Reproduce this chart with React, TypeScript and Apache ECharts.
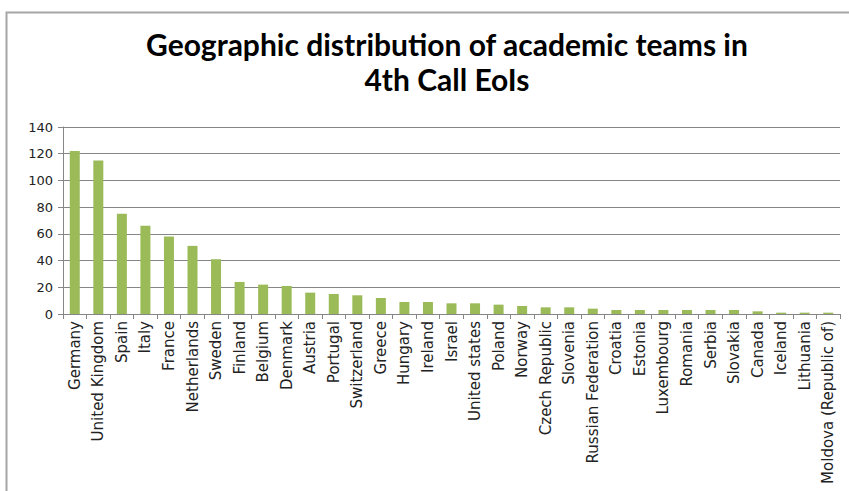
import React, { useEffect, useRef } from "react";
import * as echarts from "echarts";

const countries = [
  "Germany", "United Kingdom", "Spain", "Italy", "France", "Netherlands", "Sweden",
  "Finland", "Belgium", "Denmark", "Austria", "Portugal", "Switzerland", "Greece",
  "Hungary", "Ireland", "Israel", "United states", "Poland", "Norway", "Czech Republic",
  "Slovenia", "Russian Federation", "Croatia", "Estonia", "Luxembourg", "Romania",
  "Serbia", "Slovakia", "Canada", "Iceland", "Lithuania", "Moldova (Republic of)",
];
const teams = [
  122, 115, 75, 66, 58, 51, 41, 24, 22, 21, 16, 15, 14, 12, 9, 9, 8, 8, 7, 6, 5, 5, 4,
  3, 3, 3, 3, 3, 3, 2, 1, 1, 1,
];
const titleText = "Geographic distribution of academic teams in\n4th Call EoIs";

export default function App() {
  const ref = useRef<HTMLDivElement>(null);
  useEffect(() => {
    document.body.style.margin = "0";
    const chart = echarts.init(ref.current!, null, { renderer: "svg" });
    chart.setOption({
      animation: false,
      backgroundColor: "#ffffff",
      graphic: [
        {
          type: "rect",
          shape: { x: 6.5, y: 12.5, width: 900, height: 600 },
          style: { fill: "none", stroke: "#a6a6a6", lineWidth: 2 },
          silent: true,
        },
      ],
      title: {
        text: titleText,
        left: 442,
        textAlign: "center",
        top: 21,
        textStyle: {
          fontFamily: "Lato",
          fontWeight: "bold",
          fontSize: 30,
          lineHeight: 35,
          color: "#000",
        },
      },
      grid: { left: 63, right: 9, top: 127, bottom: 177, containLabel: false },
      xAxis: {
        type: "category",
        data: countries,
        axisLine: { lineStyle: { color: "#868686" } },
        axisTick: { show: true, alignWithLabel: false, length: 5, lineStyle: { color: "#868686" } },
        axisLabel: {
          rotate: 90,
          interval: 0,
          fontFamily: "DejaVu Sans",
          fontSize: 15,
          color: "#222",
          margin: 7,
        },
      },
      yAxis: {
        type: "value",
        min: 0,
        max: 140,
        interval: 20,
        axisLine: { show: true, lineStyle: { color: "#868686" } },
        axisTick: { show: true, length: 5, lineStyle: { color: "#868686" } },
        splitLine: { lineStyle: { color: "#868686" } },
        axisLabel: { fontFamily: "DejaVu Sans", fontSize: 13, color: "#222", margin: 10 },
      },
      series: [
        {
          type: "bar",
          data: teams,
          barWidth: 10,
          itemStyle: { color: "#9bbb59" },
        },
      ],
    });
    return () => chart.dispose();
  }, []);
  return <div ref={ref} style={{ width: 849, height: 491 }} />;
}
